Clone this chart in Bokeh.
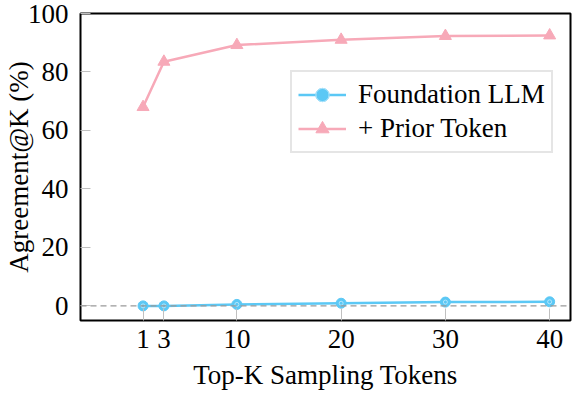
from bokeh.plotting import figure
from bokeh.models import FixedTicker, Span, Legend
from bokeh.embed import file_html
from bokeh.resources import INLINE

top_k = [1, 3, 10, 20, 30, 40]
foundation_llm = [0.0, 0.0, 0.5, 0.9, 1.3, 1.4]
prior_token = [68.0, 83.5, 89.2, 91.0, 92.3, 92.5]
x_ticks = [1, 3, 10, 20, 30, 40]
y_ticks = [0, 20, 40, 60, 80, 100]

BLUE = "#5bc8f5"
PINK = "#f7a9b8"
FONT = "Liberation Serif"
FONT2 = "Times New Roman"
FS = "27px"

p = figure(width=572, height=392, x_range=(-5, 42.0), y_range=(-5, 100),
           output_backend="svg", toolbar_location=None,
           min_border_left=80, min_border_right=2, min_border_top=13, min_border_bottom=72)

p.xgrid.visible = False
p.ygrid.visible = False
p.outline_line_color = "black"
p.outline_line_width = 2
p.background_fill_color = "white"
p.border_fill_color = "white"

for ax in (p.xaxis[0], p.yaxis[0]):
    ax.axis_line_color = None
    ax.major_tick_line_color = "#c0c0c0"
    ax.major_tick_line_width = 1
    ax.major_tick_out = 0
    ax.minor_tick_line_color = None
    ax.major_label_text_font = FONT
    ax.major_label_text_font_size = FS
    ax.major_label_text_color = "black"
    ax.axis_label_text_font = FONT
    ax.axis_label_text_font_size = FS
    ax.axis_label_text_font_style = "normal"
    ax.axis_label_text_color = "black"

p.yaxis[0].axis_label_text_font = FONT2

p.xaxis[0].ticker = FixedTicker(ticks=x_ticks)
p.yaxis[0].ticker = FixedTicker(ticks=y_ticks)
p.xaxis[0].major_tick_in = 12
p.yaxis[0].major_tick_in = 10
p.xaxis[0].major_label_standoff = 9
p.yaxis[0].major_label_standoff = 12
p.xaxis[0].axis_label = "Top-K Sampling Tokens"
p.xaxis[0].axis_label_standoff = 9
p.yaxis[0].axis_label = "Agreement@K (%)"
p.yaxis[0].axis_label_standoff = -9

zero = Span(location=0, dimension="width", line_color="#999999",
            line_width=1.2, line_dash="6 4")
p.add_layout(zero)

r1 = p.line(top_k, foundation_llm, line_color=BLUE, line_width=2.5)
r2 = p.scatter(top_k, foundation_llm, marker="circle", size=10,
               fill_color=BLUE, line_color=BLUE)
r3 = p.scatter(top_k, foundation_llm, marker="circle", size=4,
               fill_color=None, line_color="#b5e6fb", line_width=1)
r4 = p.line(top_k, prior_token, line_color=PINK, line_width=2.5)
r5 = p.scatter(top_k, prior_token, marker="triangle", size=12,
               fill_color=PINK, line_color=PINK)

legend = Legend(items=[("Foundation LLM", [r1, r2, r3]),
                       ("+ Prior Token", [r4, r5])],
                location=(210, 167))
legend.label_text_font = FONT2
legend.label_text_font_size = FS
legend.label_text_color = "black"
legend.glyph_width = 48
legend.glyph_height = 33
legend.label_height = 33
legend.label_standoff = 12
legend.padding = 6
legend.spacing = 1
legend.margin = 0
legend.border_line_color = "#cccccc"
legend.border_line_width = 2
legend.background_fill_color = "white"
legend.background_fill_alpha = 1.0
p.add_layout(legend)

open("out.html", "w").write(file_html(p, INLINE))
